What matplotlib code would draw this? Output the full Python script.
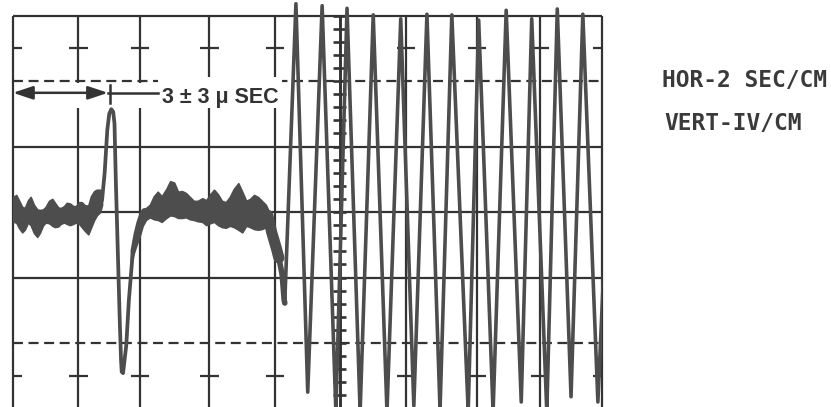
import matplotlib
matplotlib.use("Agg")
import matplotlib.pyplot as plt
from matplotlib.patches import Rectangle
import numpy as np

plt.rcParams['lines.scale_dashes'] = False

# ---- data: x in screen divisions (cm) from the left edge, y in volts (1 V/cm) from the centre line
band1_x = [0.00, 0.05, 0.09, 0.14, 0.18, 0.23, 0.27, 0.32, 0.37, 0.41, 0.46, 0.50, 0.55, 0.60, 0.64,
           0.69, 0.73, 0.78, 0.82, 0.87, 0.92, 0.96, 1.01, 1.05, 1.10, 1.15, 1.19, 1.24, 1.28, 1.33, 1.36]
band1_hi = [0.23, 0.26, 0.18, 0.08, 0.06, 0.18, 0.23, 0.11, 0.04, 0.03, 0.04, 0.08, 0.17, 0.20, 0.14,
            0.07, 0.06, 0.09, 0.14, 0.13, 0.09, 0.09, 0.15, 0.15, 0.10, 0.10, 0.24, 0.32, 0.34, 0.34, 0.31]
band1_lo = [-0.15, -0.16, -0.24, -0.31, -0.27, -0.16, -0.20, -0.32, -0.38, -0.32, -0.20, -0.16, -0.17, -0.21, -0.23,
            -0.22, -0.18, -0.16, -0.18, -0.20, -0.18, -0.16, -0.18, -0.23, -0.29, -0.34, -0.24, -0.12, -0.05, 0.00, 0.11]

pulse_x = [1.36, 1.40, 1.44, 1.47, 1.50, 1.53, 1.55, 1.57, 1.60, 1.63, 1.65, 1.66, 1.68, 1.69, 1.73, 1.77, 1.82, 1.86, 1.92]
pulse_y = [0.18, 0.60, 1.25, 1.50, 1.57, 1.53, 1.35, 0.49, -0.58, -1.65, -2.26, -2.44, -2.46, -2.38, -2.03, -1.34, -0.73, -0.43, -0.20]

band2_x = [1.80, 1.85, 1.89, 1.94, 1.98, 2.03, 2.09, 2.15, 2.21, 2.27, 2.34, 2.40, 2.46, 2.52, 2.58, 2.64, 2.70, 2.76, 2.82,
           2.89, 2.95, 3.01, 3.07, 3.13, 3.19, 3.25, 3.31, 3.37, 3.44, 3.50, 3.56, 3.62, 3.68, 3.74, 3.80, 3.86, 3.91]
band2_hi = [-0.58, -0.31, -0.15, 0.00, 0.05, 0.06, 0.11, 0.24, 0.31, 0.24, 0.35, 0.47, 0.45, 0.31, 0.32, 0.29, 0.23, 0.17, 0.17,
            0.21, 0.18, 0.27, 0.34, 0.27, 0.17, 0.15, 0.23, 0.35, 0.44, 0.31, 0.17, 0.20, 0.26, 0.23, 0.17, 0.11, 0.00]
band2_lo = [-0.76, -0.61, -0.49, -0.35, -0.21, -0.12, -0.08, -0.11, -0.12, -0.15, -0.09, -0.05, -0.06, -0.09, -0.09, -0.08, -0.11, -0.12, -0.14,
            -0.15, -0.20, -0.17, -0.15, -0.20, -0.23, -0.24, -0.21, -0.23, -0.27, -0.31, -0.21, -0.23, -0.26, -0.27, -0.26, -0.23, -0.27]

drop_x = [3.89, 3.95, 4.02, 4.06]
drop_y = [-0.05, -0.31, -0.55, -0.70]
tail_x = [4.06, 4.11, 4.14, 4.15]
tail_y = [-0.70, -0.96, -1.34, -1.39]

osc_x = [4.15, 4.32, 4.50, 4.72, 4.93, 5.10, 5.30, 5.50, 5.71, 5.92, 6.12, 6.32, 6.52, 6.70, 6.95,
         7.11, 7.33, 7.53, 7.76, 7.92, 8.15, 8.31, 8.52, 8.70, 8.93, 9.10]
osc_y = [-1.37, 3.18, -2.75, 3.15, -3.05, 3.11, -3.05, 3.01, -3.05, 2.95, -2.96, 3.02, -3.02, 3.01, -3.05,
         2.93, -3.05, 3.08, -2.90, 2.95, -3.05, 3.10, -2.82, 3.02, -2.90, 0.95]

grid_x = [0, 1, 1.94, 3, 4, 5, 6, 7.08, 8.05, 9]
solid_y = [-3, -1, 0, 1, 3]
dashed_y = [-2, 2]
cross_y = [-2.5, 2.5]

delay_label = "3 ± 3 μ SEC"
hor_label = "HOR-2 SEC/CM"
vert_label = "VERT-IV/CM"

GRID = '#333333'
TRACE = '#4d4d4d'

fig = plt.figure(figsize=(8.31, 4.07), dpi=100)
ax = fig.add_axes([0, 0, 1, 1])
ax.set_xlim(-0.198, 12.489)
ax.set_ylim(-2.977, 3.237)
ax.axis('off')

glw = 1.6
for gx in grid_x:
    ax.plot([gx, gx], [-3, 3], color=GRID, lw=glw + (0.5 if gx == 5 else 0), solid_capstyle='butt', zorder=1)
for gy in solid_y:
    ax.plot([0, 9], [gy, gy], color=GRID, lw=glw, solid_capstyle='butt', zorder=1)
for gy in dashed_y:
    ax.plot([0, 9], [gy, gy], color=GRID, lw=glw, dashes=(7.2, 4.0), zorder=1)
for gx in grid_x:
    if gx == 5:
        continue
    for cy in cross_y:
        ax.plot([max(0, gx - 0.14), min(9, gx + 0.14)], [cy, cy], color=GRID, lw=glw,
                solid_capstyle='butt', zorder=1)
for ty in np.arange(-3, 3.01, 0.2):
    ax.plot([4.89, 5.09], [ty, ty], color=GRID, lw=glw + 0.3, solid_capstyle='butt', zorder=1)

# cleared area for the annotation
ax.add_patch(Rectangle((0.025, 1.59), 4.13, 0.385, facecolor='white', edgecolor='none', zorder=2))
ax.add_patch(Rectangle((2.21, 1.59), 1.90, 0.47, facecolor='white', edgecolor='none', zorder=2))

# annotation arrow
ax.annotate('', xy=(0.0, 1.82), xytext=(1.45, 1.82),
            arrowprops=dict(arrowstyle='<|-|>,head_length=0.6,head_width=0.2', mutation_scale=20,
                            lw=1.8, color=GRID, shrinkA=0, shrinkB=0), zorder=3)
ax.plot([1.48, 1.48], [1.66, 1.94], color=GRID, lw=1.8, zorder=3)
ax.plot([1.45, 2.22], [1.82, 1.82], color=GRID, lw=1.8, zorder=3)
ax.text(2.28, 1.66, delay_label, fontsize=15.5, family='Liberation Sans', weight='bold', color='#333333',
        ha='left', va='baseline', zorder=3)

# trace
clip = Rectangle((0, -3.5), 9, 7.5, transform=ax.transData)
arts = []
arts.append(ax.fill_between(band1_x, band1_lo, band1_hi, color=TRACE, lw=1.2, zorder=4))
arts += ax.plot(pulse_x, pulse_y, color=TRACE, lw=2.7, solid_joinstyle='round', solid_capstyle='round', zorder=4)
arts.append(ax.fill_between(band2_x, band2_lo, band2_hi, color=TRACE, lw=1.2, zorder=4))
arts += ax.plot(drop_x, drop_y, color=TRACE, lw=8, solid_capstyle='round', solid_joinstyle='round', zorder=4)
arts += ax.plot(tail_x, tail_y, color=TRACE, lw=4, solid_capstyle='round', solid_joinstyle='round', zorder=4)
arts += ax.plot(osc_x, osc_y, color=TRACE, lw=2.6, solid_joinstyle='round', solid_capstyle='round', zorder=4)
for a in arts:
    a.set_clip_path(clip)

ax.text(9.91, 1.91, hor_label, fontsize=16.5, family='DejaVu Sans Mono', weight='bold',
        color='#3a3a3a', ha='left', va='baseline')
ax.text(9.95, 1.25, vert_label, fontsize=16.5, family='DejaVu Sans Mono', weight='bold',
        color='#3a3a3a', ha='left', va='baseline')

fig.savefig('out.png', dpi=100, facecolor='white')
